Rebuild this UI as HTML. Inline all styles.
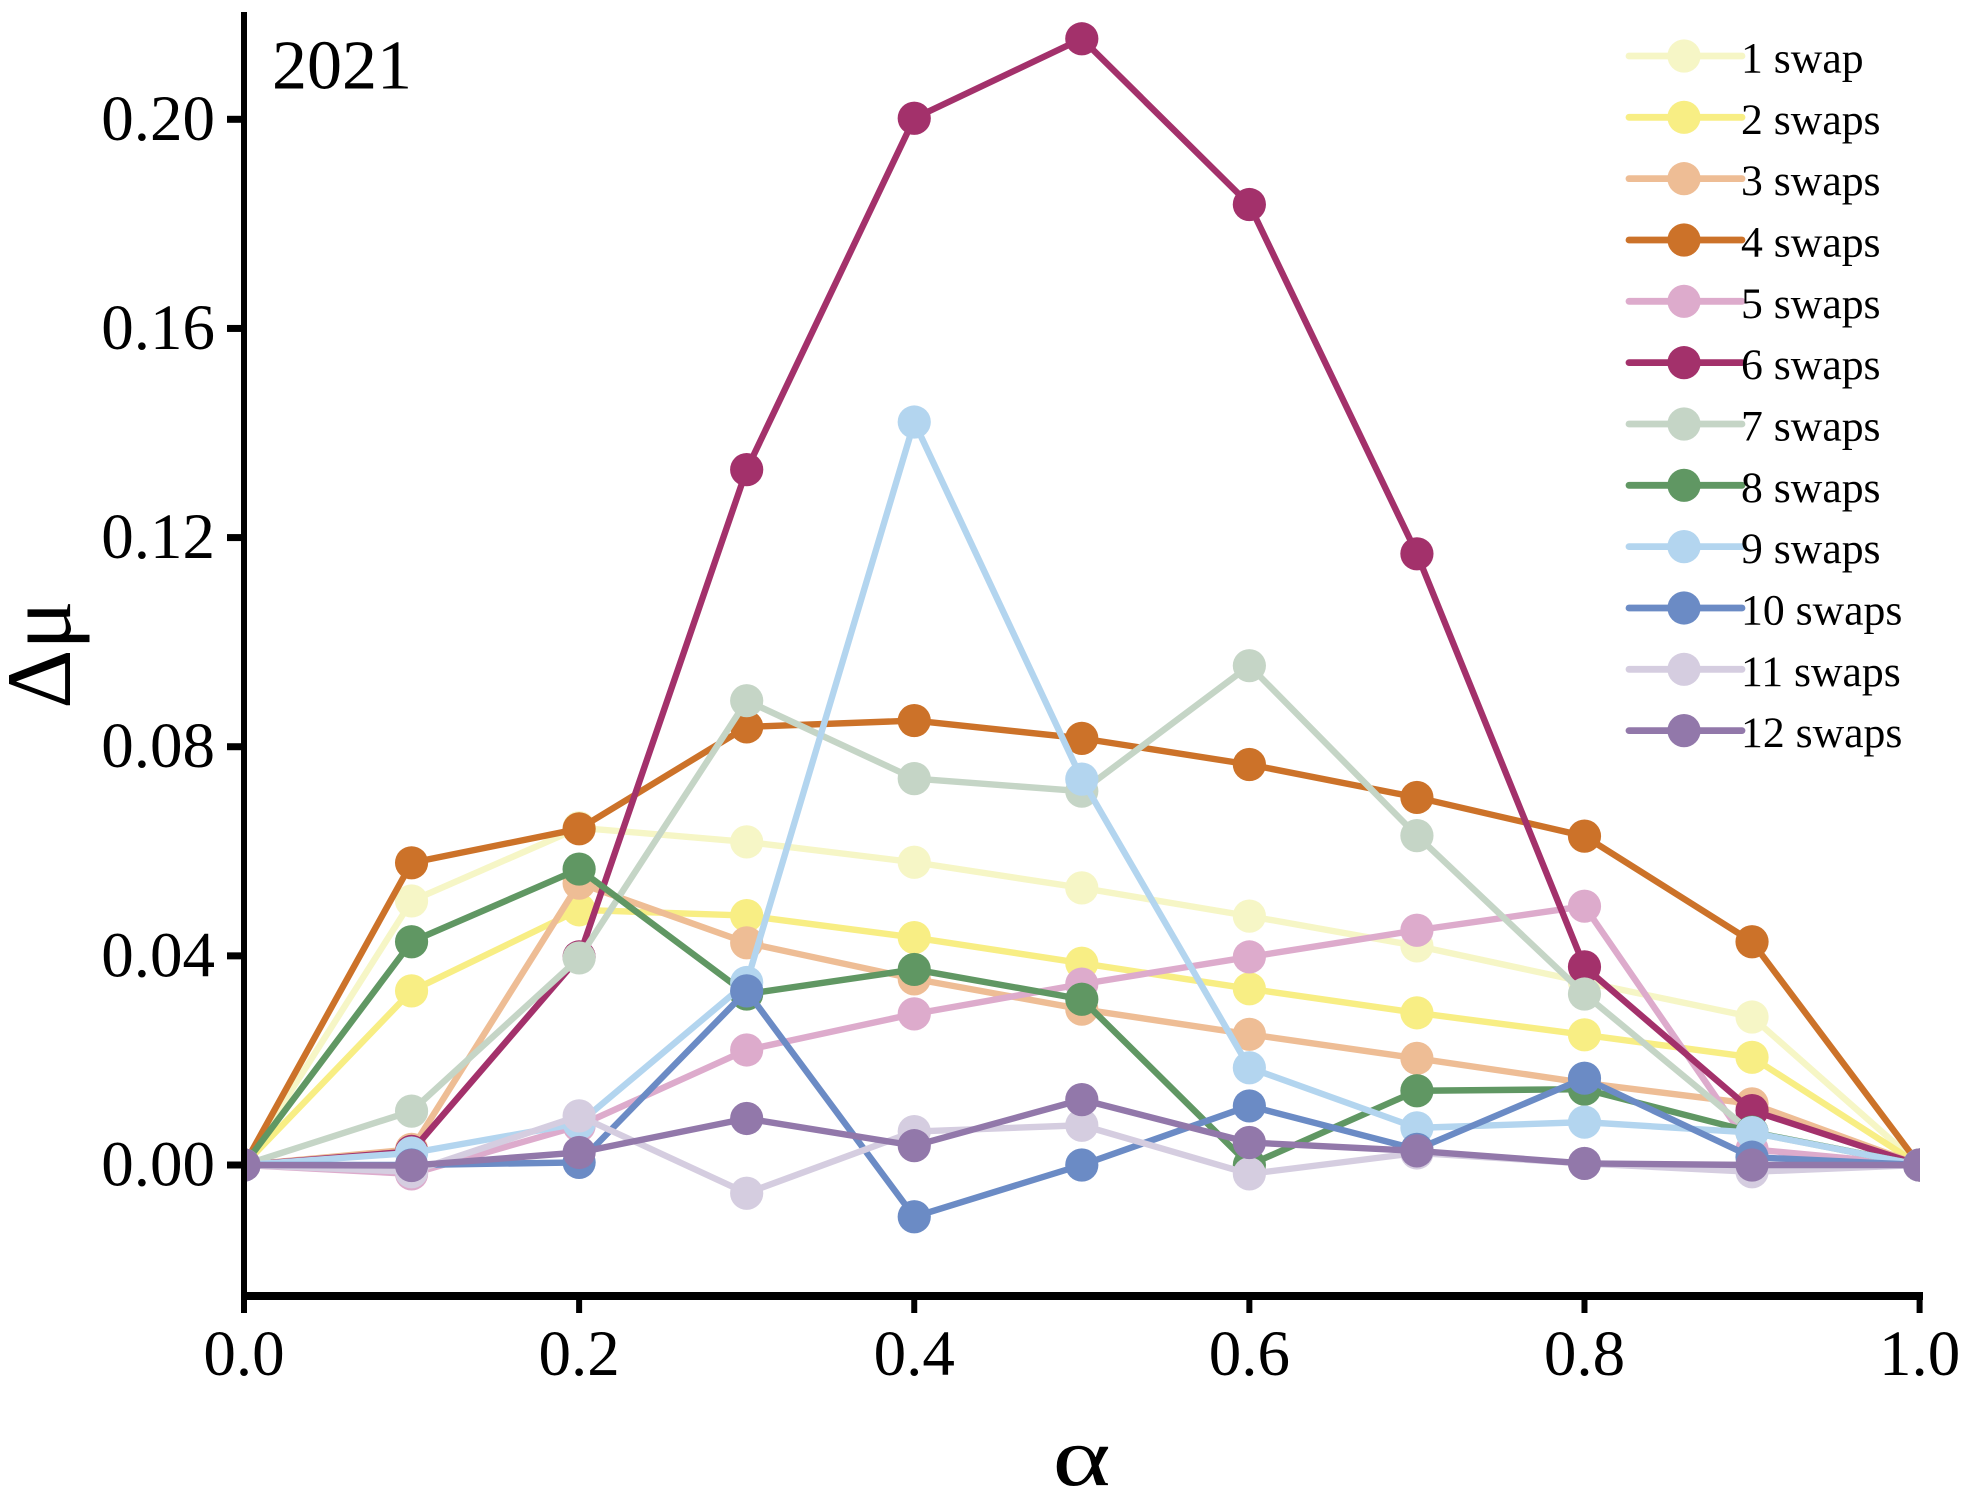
<!DOCTYPE html>
<html lang="en">
<head>
<meta charset="utf-8">
<title>Δμ versus α, 2021</title>
<style>
  html, body { margin: 0; padding: 0; background: #ffffff; }
  svg { display: block; font-family: "Liberation Serif", "Times New Roman", serif; fill: #000; }
</style>
</head>
<body>
<svg id="chart" xmlns="http://www.w3.org/2000/svg" width="1969" height="1498" viewBox="0 0 1969 1498">
  <defs>
    <clipPath id="plot-clip"><rect x="244" y="0" width="1676" height="1292"></rect></clipPath>
  </defs>
  <rect x="0" y="0" width="1969" height="1498" fill="#ffffff"></rect>
  <g id="series-layer" clip-path="url(#plot-clip)"></g>
  <g id="axis-layer"></g>
  <g id="legend-layer"></g>
  <text x="272" y="88.5" font-size="70">2021</text>
  <text x="0" y="0" font-size="84" text-anchor="middle" transform="translate(1081.5 1485) scale(1.32 1)">α</text>
  <text x="0" y="0" font-size="92" text-anchor="middle" transform="translate(70 654.5) rotate(-90)">Δμ</text>
</svg>
<script>
const alphaValues = [0, 0.1, 0.2, 0.3, 0.4, 0.5, 0.6, 0.7, 0.8, 0.9, 1];
const xTickValues = [0, 0.2, 0.4, 0.6, 0.8, 1];
const xTickLabels = ["0.0", "0.2", "0.4", "0.6", "0.8", "1.0"];
const yTickValues = [0, 0.04, 0.08, 0.12, 0.16, 0.2];
const yTickLabels = ["0.00", "0.04", "0.08", "0.12", "0.16", "0.20"];
const seriesLabels = ["1 swap", "2 swaps", "3 swaps", "4 swaps", "5 swaps", "6 swaps", "7 swaps", "8 swaps", "9 swaps", "10 swaps", "11 swaps", "12 swaps"];
const seriesColors = ["#F6F6C6", "#F8EE84", "#EEBD95", "#CC7229", "#DDABCC", "#A3316B", "#C5D5C6", "#609763", "#B3D5EF", "#6B8BC5", "#D5CDE0", "#9278AA"];

const swaps1  = [0, 0.0505, 0.0645, 0.0618, 0.0579, 0.0530, 0.0476, 0.0419, 0.0350, 0.0283, 0];
const swaps2  = [0, 0.0333, 0.0488, 0.0477, 0.0435, 0.0386, 0.0337, 0.0291, 0.0249, 0.0206, 0];
const swaps3  = [0, 0.0030, 0.0539, 0.0425, 0.0356, 0.0298, 0.0250, 0.0204, 0.0157, 0.0117, 0];
const swaps4  = [0, 0.0578, 0.0643, 0.0838, 0.0850, 0.0816, 0.0766, 0.0703, 0.0629, 0.0427, 0];
const swaps5  = [0, -0.0017, 0.0075, 0.0220, 0.0289, 0.0346, 0.0398, 0.0449, 0.0495, 0.0030, 0];
const swaps6  = [0, 0.0026, 0.0398, 0.1330, 0.2002, 0.2154, 0.1837, 0.1169, 0.0379, 0.0104, 0];
const swaps7  = [0, 0.0103, 0.0396, 0.0888, 0.0739, 0.0715, 0.0955, 0.0630, 0.0327, 0.0062, 0];
const swaps8  = [0, 0.0427, 0.0566, 0.0327, 0.0374, 0.0317, 0.0000, 0.0142, 0.0145, 0.0063, 0];
const swaps9  = [0, 0.0023, 0.0080, 0.0349, 0.1421, 0.0738, 0.0186, 0.0071, 0.0082, 0.0062, 0];
const swaps10 = [0, 0.0000, 0.0005, 0.0333, -0.0099, 0.0000, 0.0113, 0.0030, 0.0166, 0.0015, 0];
const swaps11 = [0, -0.0013, 0.0094, -0.0054, 0.0064, 0.0076, -0.0017, 0.0023, 0.0003, -0.0013, 0];
const swaps12 = [0, -0.0001, 0.0024, 0.0089, 0.0037, 0.0125, 0.0043, 0.0027, 0.0003, 0.0000, 0];
const seriesValues = [swaps1, swaps2, swaps3, swaps4, swaps5, swaps6, swaps7, swaps8, swaps9, swaps10, swaps11, swaps12];

const SVG_NS = "http://www.w3.org/2000/svg";
function xScale(a) { return 244 + a * 1675.6; }
function yScale(v) { return 1165 - v * 5228.5; }
function legendY(i) { return 56 + i * 61.33; }
function make(tag, parent, attrs) {
  const el = document.createElementNS(SVG_NS, tag);
  for (const key in attrs) el.setAttribute(key, attrs[key]);
  parent.appendChild(el);
  return el;
}

const seriesLayer = document.getElementById("series-layer");
seriesValues.forEach(function (values, s) {
  const slug = seriesLabels[s].replace(" ", "-");
  const group = make("g", seriesLayer, {});
  
  
  const points = values.map(function (v, i) { return xScale(alphaValues[i]).toFixed(2) + "," + yScale(v).toFixed(2); }).join(" ");
  const line = make("polyline", group, { points: points, fill: "none", stroke: seriesColors[s], "stroke-width": 6.4, "stroke-linejoin": "round" });
  
  
  values.forEach(function (v, i) {
    const dot = make("circle", group, { cx: xScale(alphaValues[i]), cy: yScale(v), r: 16.6, fill: seriesColors[s] });
    
    
  });
});

const axisLayer = document.getElementById("axis-layer");
const yAxisLine = make("rect", axisLayer, { x: 241, y: 12, width: 6, height: 1288, fill: "#000" });


const xAxisLine = make("rect", axisLayer, { x: 241, y: 1292, width: 1682, height: 8, fill: "#000" });



yTickValues.forEach(function (v, i) {
  const tick = make("rect", axisLayer, { x: 227, y: yScale(v) - 3.5, width: 14, height: 7, fill: "#000" });
  
  
  const label = make("text", axisLayer, { x: 215, y: yScale(v) + 20.5, "font-size": 65, "text-anchor": "end" });
  
  
  label.textContent = yTickLabels[i];
});

xTickValues.forEach(function (v, i) {
  const tick = make("rect", axisLayer, { x: xScale(v) - 3, y: 1300, width: 6, height: 13, fill: "#000" });
  
  
  const label = make("text", axisLayer, { x: xScale(v), y: 1375, "font-size": 65, "text-anchor": "middle" });
  
  
  label.textContent = xTickLabels[i];
});

const legendLayer = document.getElementById("legend-layer");
seriesLabels.forEach(function (name, s) {
  const y = legendY(s);
  const entry = make("g", legendLayer, {});
  
  
  const swatchLine = make("line", entry, { x1: 1629, x2: 1742, y1: y, y2: y, stroke: seriesColors[s], "stroke-width": 6.8, "stroke-linecap": "round" });
  
  
  const swatchDot = make("circle", entry, { cx: 1684, cy: y, r: 16.6, fill: seriesColors[s] });
  
  
  const text = make("text", entry, { x: 1741, y: y + 16.5, "font-size": 43.7 });
  
  
  text.textContent = name;
});
</script>
</body>
</html>
